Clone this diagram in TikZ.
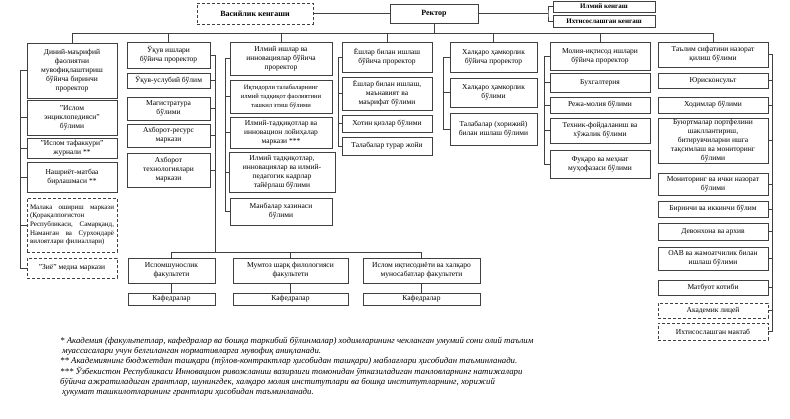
\documentclass[tikz,border=0pt]{standalone}
\usepackage{fontspec}
\setmainfont{Liberation Serif}

\begin{document}
\begin{tikzpicture}[
    x=1pt, y=-1pt,
    unit/.style={
        rectangle, draw=black!75, line width=0.7pt,
        inner sep=1pt, align=center,
        font=\fontsize{7.5}{9}\selectfont
    },
    extra/.style={
        unit, dashed, dash pattern=on 3pt off 2pt
    },
    bold/.style={font=\fontsize{8}{9}\selectfont\bfseries},
    col1/.style={minimum width=90pt},
    col2/.style={minimum width=83pt},
    col3/.style={minimum width=102pt},
    col4/.style={minimum width=90pt},
    col5/.style={minimum width=87pt},
    col6/.style={minimum width=100pt},
    col7/.style={minimum width=110pt},
    link/.style={draw=black!75, line width=0.7pt},
    note/.style={
        align=left, inner sep=0pt, anchor=north west,
        font=\fontsize{8.8}{10.2}\selectfont\itshape
    }
]

\path[use as bounding box, fill=white] (0,0) rectangle (790,418);

\node[extra, bold, minimum width=116pt, minimum height=21pt] (board) at (255,13.5) {Васийлик кенгаши};
\node[unit, bold, minimum width=88pt, minimum height=19pt] (rector) at (434,13.5) {Ректор};
\node[unit, font=\fontsize{7}{8}\selectfont\bfseries, minimum width=102pt, minimum height=11pt] (council) at (604,6.5) {Илмий кенгаш};
\node[unit, font=\fontsize{7}{8}\selectfont\bfseries, minimum width=102pt, minimum height=12pt] (spcouncil) at (604,21) {Ихтисослашган кенгаш};

\node[unit, col1, minimum height=55pt] (c1a) at (72,70.5) {Диний-маърифий\\фаолиятни\\мувофиқлаштириш\\бўйича биринчи\\проректор};
\node[unit, col1, minimum height=35pt] (c1b) at (72,117.5) {"Ислом\\энциклопедияси"\\бўлими};
\node[unit, col1, minimum height=20pt] (c1c) at (72,148) {"Ислом тафаккури"\\журнали **};
\node[unit, col1, minimum height=30pt] (c1d) at (72,177) {Нашриёт-матбаа\\бирлашмаси **};
\node[extra, col1, minimum height=54pt, text width=84pt, align=left, font=\fontsize{7}{8.6}\selectfont] (c1e) at (72,225) {Малака\hfill ошириш\hfill маркази\\(Қорақалпоғистон\\Республикаси,\hfill Самарқанд,\\Наманган\hfill ва\hfill Сурхондарё\\вилоятлари филиаллари)};
\node[extra, col1, minimum height=20pt] (c1f) at (72,268) {"Зиё" медиа маркази};

\node[unit, col2, minimum height=26pt] (c2a) at (168.5,55) {Ўқув ишлари\\бўйича проректор};
\node[unit, col2, minimum height=15pt] (c2b) at (168.5,80.5) {Ўқув-услубий бўлим};
\node[unit, col2, minimum height=23pt] (c2c) at (168.5,108.5) {Магистратура\\бўлими};
\node[unit, col2, minimum height=23pt] (c2d) at (168.5,135.5) {Ахборот-ресурс\\маркази};
\node[unit, col2, minimum height=34pt] (c2e) at (168.5,170) {Ахборот\\технологиялари\\маркази};

\node[unit, col3, minimum height=33pt] (c3a) at (281,58.5) {Илмий ишлар ва\\инновациялар бўйича\\проректор};
\node[unit, col3, minimum height=33pt, font=\fontsize{6.6}{9}\selectfont] (c3b) at (281,96.5) {Иқтидорли талабаларнинг\\илмий тадқиқот фаолиятини\\ташкил этиш бўлими};
\node[unit, col3, minimum height=31pt] (c3c) at (281,132.5) {Илмий-тадқиқотлар ва\\инновацион лойиҳалар\\маркази ***};
\node[unit, minimum width=106pt, minimum height=40pt] (c3d) at (282,172) {Илмий тадқиқотлар,\\инновациялар ва илмий-\\педагогик кадрлар\\тайёрлаш бўлими};
\node[unit, col3, minimum height=27pt] (c3e) at (281,211.5) {Манбалар хазинаси\\бўлими};

\node[unit, col4, minimum height=30pt] (c4a) at (387,57) {Ёшлар билан ишлаш\\бўйича проректор};
\node[unit, col4, minimum height=33pt] (c4b) at (387,93.5) {Ёшлар билан ишлаш,\\маънавият ва\\маърифат бўлими};
\node[unit, col4, minimum height=17pt] (c4c) at (387,123.5) {Хотин қизлар бўлими};
\node[unit, col4, minimum height=18pt] (c4d) at (387,146) {Талабалар турар жойи};

\node[unit, col5, minimum height=30pt] (c5a) at (493.5,57) {Халқаро ҳамкорлик\\бўйича проректор};
\node[unit, col5, minimum height=29pt] (c5b) at (493.5,92.5) {Халқаро ҳамкорлик\\бўлими};
\node[unit, col5, minimum height=32pt] (c5c) at (493.5,129) {Талабалар (хорижий)\\билан ишлаш бўлими};

\node[unit, col6, minimum height=28pt] (c6a) at (600,56) {Молия-иқтисод ишлари\\бўйича проректор};
\node[unit, col6, minimum height=19pt] (c6b) at (600,82.5) {Бухгалтерия};
\node[unit, col6, minimum height=16pt] (c6c) at (600,105) {Режа-молия бўлими};
\node[unit, col6, minimum height=25pt] (c6d) at (600,130.5) {Техник-фойдаланиш ва\\хўжалик бўлими};
\node[unit, col6, minimum height=28pt] (c6e) at (600,164) {Фуқаро ва меҳнат\\муҳофазаси бўлими};

\node[unit, col7, minimum height=25pt] (c7a) at (713,54.5) {Таълим сифатини назорат\\қилиш бўлими};
\node[unit, col7, minimum height=15pt] (c7b) at (713,80.5) {Юрисконсульт};
\node[unit, col7, minimum height=16pt] (c7c) at (713,105) {Ходимлар бўлими};
\node[unit, col7, minimum height=45pt] (c7d) at (713,140.5) {Буюртмалар портфелини\\шакллантириш,\\битирувчиларни ишга\\тақсимлаш ва мониторинг\\бўлими};
\node[unit, col7, minimum height=22pt] (c7e) at (713,184) {Мониторинг ва ички назорат\\бўлими};
\node[unit, col7, minimum height=16pt] (c7f) at (713,209) {Биринчи ва иккинчи бўлим};
\node[unit, col7, minimum height=17pt] (c7g) at (713,231.5) {Девонхона ва архив};
\node[unit, col7, minimum height=23pt] (c7h) at (713,258.5) {ОАВ ва жамоатчилик билан\\ишлаш бўлими};
\node[unit, col7, minimum height=15pt] (c7i) at (713,287.5) {Матбуот котиби};
\node[extra, col7, minimum height=15pt] (c7j) at (713,310.5) {Академик лицей};
\node[extra, col7, minimum height=17pt] (c7k) at (713,331.5) {Ихтисослашган мактаб};

\node[unit, minimum width=87pt, minimum height=25pt] (f1) at (171.5,270.5) {Исломшунослик\\факультети};
\node[unit, minimum width=115pt, minimum height=25pt] (f2) at (290.5,270.5) {Мумтоз шарқ филологияси\\факультети};
\node[unit, minimum width=117pt, minimum height=25pt] (f3) at (421.5,270.5) {Ислом иқтисодиёти ва халқаро\\муносабатлар факультети};
\node[unit, minimum width=87pt, minimum height=12pt] (k1) at (171.5,299) {Кафедралар};
\node[unit, minimum width=115pt, minimum height=12pt] (k2) at (290.5,299) {Кафедралар};
\node[unit, minimum width=117pt, minimum height=12pt] (k3) at (421.5,299) {Кафедралар};

\node[note] (notes) at (60,337) {* Академия (факультетлар, кафедралар ва бошқа таркибий бўлинмалар) ходимларининг чекланган умумий сони олий таълим\\
\hspace*{2pt}муассасалари учун белгиланган нормативларга мувофиқ аниқланади.\\
** Академиянинг бюджетдан ташқари (тўлов-контрактлар ҳисобидан ташқари) маблағлари ҳисобидан таъминланади.\\
*** Ўзбекистон Республикаси Инновацион ривожланиш вазирлиги томонидан ўтказиладиган танловларнинг натижалари\\
бўйича ажратиладиган грантлар, шунингдек, халқаро молия институтлари ва бошқа институтларнинг, хорижий\\
\hspace*{2pt}ҳукумат ташкилотларининг грантлари ҳисобидан таъминланади.};

\coordinate (cbar) at (548,13.5);
\coordinate (bus) at (434,33);
\coordinate (fbus) at (215,252);
\coordinate (l1) at (20,0);
\coordinate (l3) at (225,0);
\coordinate (l4) at (338,0);
\coordinate (l5) at (443,0);
\coordinate (l6) at (544,0);
\coordinate (r7) at (772,0);

\draw[link] (board) -- (rector);
\draw[link] (rector.east) -- (cbar);
\draw[link] (council.west) -| (cbar) |- (spcouncil.west);

\draw[link] (rector.south) -- (bus);
\draw[link] (c1a.north |- bus) -- (c7a.north |- bus);
\foreach \c in {c1a,c2a,c3a,c4a,c5a,c6a,c7a}
    \draw[link] (\c.north |- bus) -- (\c.north);

\draw[link] (c1a.west) -| (l1 |- c1f.west) -- (c1f.west);
\foreach \b in {c1b,c1c,c1d,c1e}
    \draw[link] (\b.west) -- (\b.west -| l1);

\draw[link] (c2a.east) -| (fbus);
\foreach \b in {c2b,c2c,c2d,c2e}
    \draw[link] (\b.east) -- (\b.east -| fbus);

\draw[link] (c3a.west) -| (l3 |- c3e.west) -- (c3e.west);
\foreach \b in {c3b,c3c,c3d}
    \draw[link] (\b.west) -- (\b.west -| l3);

\draw[link] (c4a.west) -| (l4 |- c4d.west) -- (c4d.west);
\foreach \b in {c4b,c4c}
    \draw[link] (\b.west) -- (\b.west -| l4);

\draw[link] (c5a.west) -| (l5 |- c5c.west) -- (c5c.west);
\draw[link] (c5b.west) -- (c5b.west -| l5);

\draw[link] (c6a.west) -| (l6 |- c6e.west) -- (c6e.west);
\foreach \b in {c6b,c6c,c6d}
    \draw[link] (\b.west) -- (\b.west -| l6);

\draw[link] (c7a.east) -| (r7 |- c7k.east) -- (c7k.east);
\foreach \b in {c7b,c7c,c7d,c7e,c7f,c7g,c7h,c7i,c7j}
    \draw[link] (\b.east) -- (\b.east -| r7);

\draw[link] (f1.north |- fbus) -- (f3.north |- fbus);
\foreach \f/\k in {f1/k1,f2/k2,f3/k3} {
    \draw[link] (\f.north |- fbus) -- (\f.north);
    \draw[link] (\f.south) -- (\k.north);
}

\end{tikzpicture}
\end{document}
